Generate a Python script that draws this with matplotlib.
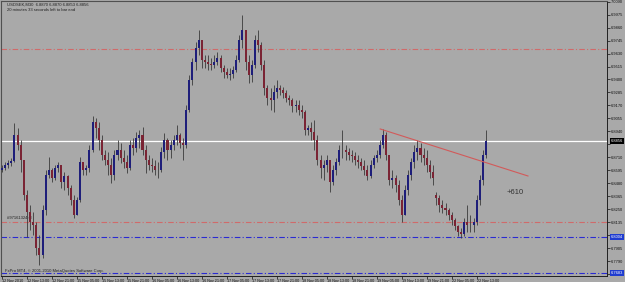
import numpy as np
import matplotlib
matplotlib.use("Agg")
import matplotlib.pyplot as plt
from matplotlib import transforms

# USDSEK candles (one per hour)
highs = [6.8641, 6.8668, 6.8686, 6.8704, 6.9014, 6.8970, 6.8863, 6.8686, 6.8420, 6.8287,
         6.8225, 6.8136, 6.8021, 6.8287, 6.8597, 6.8712, 6.8615, 6.8641, 6.8668, 6.8641,
         6.8579, 6.8553, 6.8464, 6.8375, 6.8358, 6.8712, 6.8668, 6.8641, 6.8819, 6.9076,
         6.9058, 6.9023, 6.8908, 6.8774, 6.8757, 6.8704, 6.8774, 6.8863, 6.8837, 6.8774,
         6.8730, 6.8863, 6.8881, 6.8934, 6.8952, 6.8979, 6.8819, 6.8730, 6.8704, 6.8686,
         6.8668, 6.8801, 6.8925, 6.8881, 6.8863, 6.8908, 6.8996, 6.8925, 6.8881, 6.9174,
         6.9440, 6.9591, 6.9732, 6.9839, 6.9706, 6.9617, 6.9617, 6.9591, 6.9617, 6.9644,
         6.9617, 6.9528, 6.9502, 6.9502, 6.9520, 6.9617, 6.9795, 6.9972, 6.9839, 6.9617,
         6.9573, 6.9795, 6.9839, 6.9732, 6.9573, 6.9351, 6.9324, 6.9351, 6.9395, 6.9351,
         6.9333, 6.9307, 6.9262, 6.9236, 6.9218, 6.9218, 6.9174, 6.9129, 6.8996, 6.9023,
         6.9041, 6.8908, 6.8730, 6.8686, 6.8730, 6.8686, 6.8641, 6.8704, 6.8819, 6.8952,
         6.8819, 6.8792, 6.8774, 6.8757, 6.8730, 6.8704, 6.8686, 6.8641, 6.8686, 6.8730,
         6.8774, 6.8863, 6.8961, 6.8934, 6.8730, 6.8597, 6.8553, 6.8508, 6.8375, 6.8464,
         6.8597, 6.8704, 6.8819, 6.8863, 6.8837, 6.8792, 6.8774, 6.8686, 6.8641, 6.8402,
         6.8375, 6.8331, 6.8304, 6.8260, 6.8225, 6.8171, 6.8109, 6.8083, 6.8171, 6.8287,
         6.8198, 6.8171, 6.8375, 6.8553, 6.8774, 6.8952]
lows = [6.8579, 6.8597, 6.8615, 6.8633, 6.8668, 6.8774, 6.8579, 6.8331, 6.8003, 6.8065,
        6.8021, 6.7843, 6.7754, 6.7817, 6.8198, 6.8526, 6.8491, 6.8508, 6.8579, 6.8437,
        6.8420, 6.8375, 6.8287, 6.8171, 6.8198, 6.8313, 6.8553, 6.8553, 6.8579, 6.8757,
        6.8881, 6.8774, 6.8686, 6.8641, 6.8553, 6.8482, 6.8508, 6.8686, 6.8659, 6.8615,
        6.8570, 6.8597, 6.8730, 6.8757, 6.8792, 6.8730, 6.8570, 6.8597, 6.8579, 6.8553,
        6.8526, 6.8579, 6.8704, 6.8686, 6.8704, 6.8774, 6.8819, 6.8792, 6.8686, 6.8792,
        6.9112, 6.9351, 6.9484, 6.9617, 6.9502, 6.9502, 6.9484, 6.9484, 6.9502, 6.9528,
        6.9466, 6.9413, 6.9413, 6.9395, 6.9413, 6.9466, 6.9555, 6.9679, 6.9484, 6.9369,
        6.9378, 6.9502, 6.9644, 6.9484, 6.9262, 6.9174, 6.9129, 6.9112, 6.9236, 6.9262,
        6.9236, 6.9200, 6.9174, 6.9112, 6.9112, 6.9085, 6.9058, 6.8908, 6.8908, 6.8863,
        6.8774, 6.8641, 6.8526, 6.8508, 6.8579, 6.8402, 6.8464, 6.8553, 6.8641, 6.8704,
        6.8686, 6.8686, 6.8668, 6.8641, 6.8615, 6.8597, 6.8553, 6.8508, 6.8526, 6.8615,
        6.8668, 6.8704, 6.8792, 6.8686, 6.8464, 6.8437, 6.8402, 6.8287, 6.8136, 6.8198,
        6.8375, 6.8508, 6.8615, 6.8686, 6.8668, 6.8641, 6.8579, 6.8526, 6.8464, 6.8287,
        6.8225, 6.8216, 6.8198, 6.8154, 6.8109, 6.8065, 6.8012, 6.7994, 6.8012, 6.8047,
        6.8047, 6.8047, 6.8109, 6.8287, 6.8464, 6.8704]
closes = [6.8615, 6.8641, 6.8659, 6.8677, 6.8908, 6.8819, 6.8686, 6.8375, 6.8225, 6.8136,
          6.8109, 6.7905, 6.7843, 6.8242, 6.8553, 6.8597, 6.8526, 6.8615, 6.8641, 6.8491,
          6.8544, 6.8437, 6.8331, 6.8198, 6.8331, 6.8668, 6.8597, 6.8615, 6.8774, 6.9023,
          6.8970, 6.8863, 6.8730, 6.8686, 6.8641, 6.8553, 6.8730, 6.8774, 6.8704, 6.8668,
          6.8615, 6.8819, 6.8792, 6.8881, 6.8908, 6.8774, 6.8686, 6.8641, 6.8633, 6.8597,
          6.8597, 6.8757, 6.8863, 6.8774, 6.8819, 6.8863, 6.8908, 6.8837, 6.8819, 6.9129,
          6.9395, 6.9555, 6.9679, 6.9750, 6.9573, 6.9555, 6.9537, 6.9528, 6.9555, 6.9591,
          6.9502, 6.9466, 6.9440, 6.9449, 6.9484, 6.9573, 6.9750, 6.9839, 6.9555, 6.9440,
          6.9528, 6.9750, 6.9706, 6.9528, 6.9324, 6.9236, 6.9218, 6.9289, 6.9324, 6.9307,
          6.9280, 6.9236, 6.9218, 6.9165, 6.9174, 6.9129, 6.9112, 6.8952, 6.8970, 6.8934,
          6.8863, 6.8686, 6.8615, 6.8641, 6.8686, 6.8491, 6.8597, 6.8668, 6.8774, 6.8774,
          6.8757, 6.8730, 6.8721, 6.8686, 6.8668, 6.8633, 6.8597, 6.8544, 6.8641, 6.8704,
          6.8730, 6.8819, 6.8908, 6.8730, 6.8508, 6.8526, 6.8464, 6.8331, 6.8198, 6.8420,
          6.8553, 6.8668, 6.8757, 6.8792, 6.8730, 6.8704, 6.8641, 6.8579, 6.8526, 6.8349,
          6.8287, 6.8260, 6.8242, 6.8198, 6.8154, 6.8100, 6.8047, 6.8029, 6.8136, 6.8109,
          6.8109, 6.8136, 6.8331, 6.8508, 6.8730, 6.8856]
first_open = 6.8600
gap_opens = {139: 6.8375}   # monday open after the weekend

time_labels = ["12 Nov 2010", "12 Nov 13:00", "12 Nov 21:00", "15 Nov 05:00", "15 Nov 13:00",
               "15 Nov 21:00", "16 Nov 05:00", "16 Nov 13:00", "16 Nov 21:00", "17 Nov 05:00",
               "17 Nov 13:00", "17 Nov 21:00", "18 Nov 05:00", "18 Nov 13:00", "18 Nov 21:00",
               "19 Nov 05:00", "19 Nov 13:00", "19 Nov 21:00", "22 Nov 05:00", "22 Nov 13:00"]
price_ticks = [7.0090 - 0.0115 * k for k in range(22)]

bid = 6.8856
stop_level = 6.8136
take_level = 6.9670
blue_level = 6.8004
low_level = 6.7683
trend_x = [121.1, 168.4]
trend_y = [6.8961, 6.8544]

plt.rcParams['font.family'] = ['Liberation Sans', 'DejaVu Sans']

bg = '#a9a9a9'
fig = plt.figure(figsize=(6.25, 2.82), dpi=100, facecolor=bg)
ax = fig.add_axes([1/625, 6/282, 606/625, 275/282], facecolor=bg)

n = len(closes)
x = np.arange(n)
opens = [first_open] + closes[:-1]
for k, v in gap_opens.items():
    opens[k] = v
opens = np.array(opens)
closes_a = np.array(closes)
up = closes_a >= opens

ax.vlines(x, lows, highs, color='#3a3a3a', lw=0.6, zorder=3)
body_lo = np.minimum(opens, closes_a)
body_h = np.maximum(np.abs(closes_a - opens), 0.0003)
ax.bar(x[up], body_h[up], bottom=body_lo[up], width=0.65, color='#1e1e7a', zorder=4, linewidth=0)
ax.bar(x[~up], body_h[~up], bottom=body_lo[~up], width=0.65, color='#7a2434', zorder=4, linewidth=0)

# horizontal levels
dashdot = (0, (5, 2, 1, 2))
ax.axhline(take_level, color='#d06a6a', lw=0.8, ls=dashdot, zorder=2)
ax.axhline(stop_level, color='#d06a6a', lw=0.8, ls=dashdot, zorder=2)
ax.axhline(blue_level, color='#2a2ad2', lw=0.8, ls=dashdot, zorder=2)
ax.axhline(low_level, color='#2a2ad2', lw=0.8, ls=dashdot, zorder=2)
ax.axhline(bid, color='white', lw=0.9, zorder=2)
ax.plot(trend_x, trend_y, color='#d25a5a', lw=0.8, zorder=5)

ax.text(161.7, 6.8402, "+610", fontsize=5.5, color='#333333', va='center')
ax.text(1.5, stop_level + 0.0015, "#97161324 sl", fontsize=3, color='#202020', va='bottom')
ax.text(0.006, 0.012, "FxPro MT4, \u00a9 2001-2010 MetaQuotes Software Corp.", fontsize=3,
        color='#202020', transform=ax.transAxes, va='bottom')
ax.text(0.01, 0.995, "USDSEK,M30  6.8870 6.8870 6.8853 6.8856", fontsize=3,
        color='#202020', transform=ax.transAxes, va='top')
ax.text(0.01, 0.975, "20 minutes 33 seconds left to bar end", fontsize=3,
        color='#202020', transform=ax.transAxes, va='top')

ax.set_xlim(-0.3, 193.7)
ax.set_ylim(6.7657, 7.0096)

boxed = [bid, blue_level, low_level]
ax.yaxis.tick_right()
ax.set_yticks(price_ticks)
ax.set_yticklabels(["" if min(abs(v - b) for b in boxed) < 0.006 else f"{v:.4f}"
                    for v in price_ticks])
ax.set_xticks(np.arange(0, 8 * len(time_labels), 8))
ax.set_xticklabels(time_labels, ha='left')
ax.tick_params(axis='y', labelsize=2.9, length=2, width=0.5, pad=1, colors='#101010')
ax.tick_params(axis='x', labelsize=2.7, length=2, width=0.5, pad=0.5, colors='#101010')

for s in ['top', 'left']:
    ax.spines[s].set_color('#505050')
    ax.spines[s].set_linewidth(0.8)
for s in ['right', 'bottom']:
    ax.spines[s].set_color('#202020')
    ax.spines[s].set_linewidth(0.7)

# price boxes on the axis
tr = transforms.blended_transform_factory(ax.transAxes, ax.transData)
for val, fc in [(bid, 'black'), (blue_level, '#1f3cd0'), (low_level, '#1f3cd0')]:
    ax.text(1.006, val, f"{val:.4f}", transform=tr, fontsize=2.9, color='white', va='center',
            ha='left', zorder=10, clip_on=False,
            bbox=dict(boxstyle='square,pad=0.2', fc=fc, ec='none'))

fig.savefig("out.png", dpi=100, facecolor=bg)
